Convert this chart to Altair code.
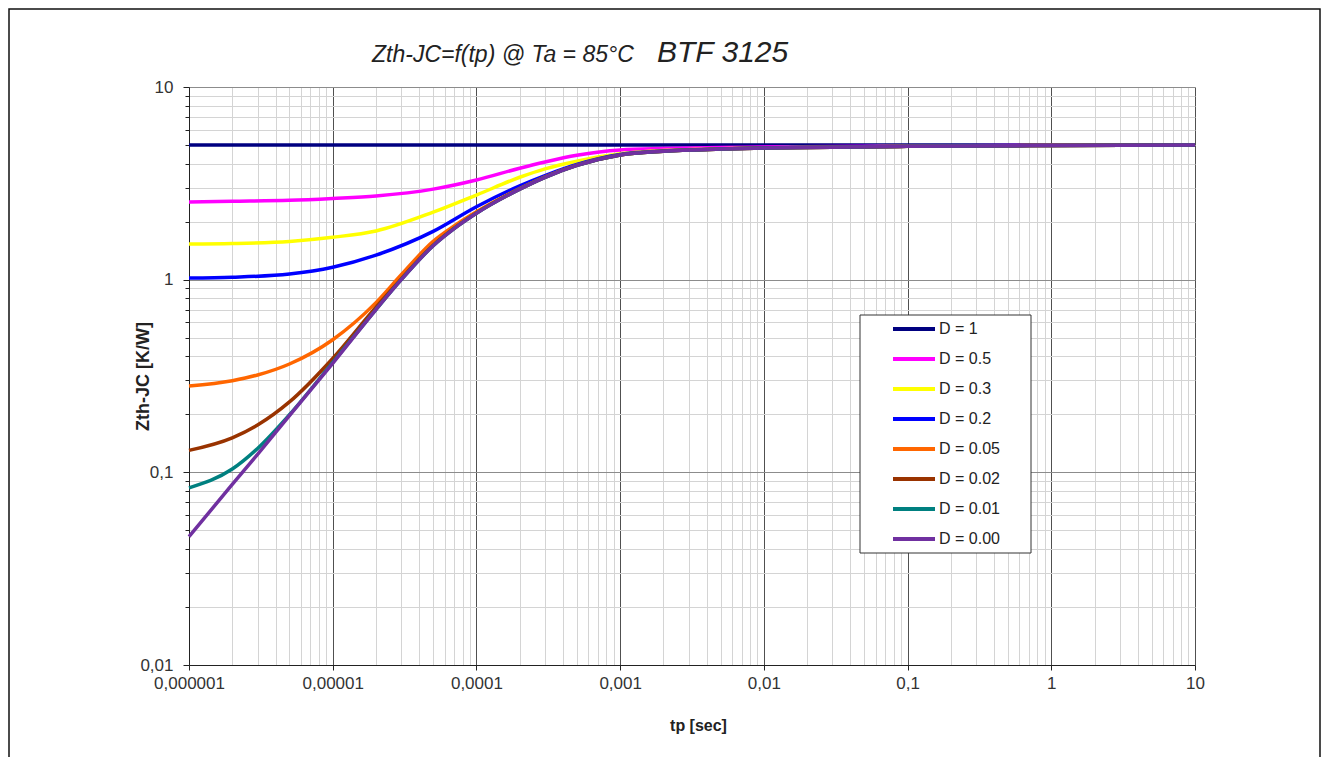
import altair as alt
import pandas as pd

# ---------------- data ----------------
series = ["D = 1", "D = 0.5", "D = 0.3", "D = 0.2", "D = 0.05", "D = 0.02", "D = 0.01", "D = 0.00"]
colors = ["#000080", "#FF00FF", "#FFFF00", "#0000FF", "#FF6600", "#993300", "#008080", "#7030A0"]

tp_d1 = [1e-6, 1e-3, 10]
z_d1 = [5.0, 5.0, 5.0]

tp_hi = [1e-6, 2e-6, 5e-6, 1e-5, 2e-5, 5e-5, 1e-4, 2e-4, 3e-4, 5e-4, 1e-3, 2e-3, 5e-3, 1e-2, 1e-1, 1, 10]
z_d05 = [2.53, 2.55, 2.58, 2.64, 2.72, 2.95, 3.29, 3.79, 4.08, 4.42, 4.71, 4.79, 4.85, 4.88, 4.94, 4.98, 5.0]
z_d03 = [1.53, 1.54, 1.58, 1.66, 1.79, 2.24, 2.75, 3.40, 3.76, 4.12, 4.50, 4.68, 4.78, 4.84, 4.93, 4.97, 5.0]
z_d02 = [1.02, 1.03, 1.07, 1.16, 1.34, 1.78, 2.39, 3.07, 3.47, 3.96, 4.46, 4.65, 4.77, 4.83, 4.92, 4.97, 5.0]

tp_lo = [1e-6, 2e-6, 3e-6, 5e-6, 1e-5, 2e-5, 3e-5, 5e-5, 7e-5, 1e-4, 2e-4, 3e-4, 5e-4,
         1e-3, 2e-3, 5e-3, 1e-2, 1e-1, 1, 10]
z_d005 = [0.281, 0.299, 0.320, 0.365, 0.488, 0.760, 1.06, 1.58, 1.90, 2.25, 2.97, 3.42, 3.93,
          4.44, 4.64, 4.76, 4.82, 4.92, 4.97, 5.0]
z_d002 = [0.130, 0.151, 0.176, 0.232, 0.390, 0.720, 1.01, 1.51, 1.85, 2.22, 2.95, 3.40, 3.92,
          4.44, 4.64, 4.76, 4.82, 4.92, 4.97, 5.0]
z_d001 = [0.083, 0.104, 0.133, 0.199, 0.372, 0.700, 1.00, 1.50, 1.84, 2.21, 2.95, 3.40, 3.92,
          4.44, 4.64, 4.76, 4.82, 4.92, 4.97, 5.0]
z_d000 = [0.0464, 0.0865, 0.124, 0.197, 0.368, 0.700, 1.00, 1.50, 1.84, 2.21, 2.95, 3.40, 3.92,
          4.44, 4.64, 4.76, 4.82, 4.92, 4.97, 5.0]

title_main = "Zth-JC=f(tp) @ Ta = 85°C"
title_part = "BTF 3125"
x_title = "tp [sec]"
y_title = "Zth-JC [K/W]"

# ---------------- table ----------------
curves = [
    (tp_d1, z_d1), (tp_hi, z_d05), (tp_hi, z_d03), (tp_hi, z_d02),
    (tp_lo, z_d005), (tp_lo, z_d002), (tp_lo, z_d001), (tp_lo, z_d000),
]
rows = []
for name, (xs, ys) in zip(series, curves):
    for xv, yv in zip(xs, ys):
        rows.append({"series": name, "tp": xv, "z": yv})
df = pd.DataFrame(rows)
legend_df = pd.DataFrame({"series": series})

x_ticks = [m * 10.0 ** e for e in range(-6, 1) for m in range(1, 10)] + [10.0]
y_ticks = [m * 10.0 ** e for e in range(-2, 1) for m in range(1, 10)] + [10.0]

major = "abs(log(datum.value)/LN10 - round(log(datum.value)/LN10)) < 0.001"
label_expr = f"({major}) ? replace(format(datum.value, '.6~f'), '.', ',') : ''"

FONT = "Liberation Sans"
TXT = "#222222"

x_axis = alt.Axis(
    values=x_ticks, grid=True,
    gridColor={"condition": {"test": major, "value": "#505050"}, "value": "#d4d4d4"},
    gridWidth=1,
    tickSize={"condition": {"test": major, "value": 5}, "value": 0},
    tickColor="#222222", domainColor="#222222",
    labelExpr=label_expr, labelOverlap=False, labelFlush=False,
    labelFont=FONT, labelFontSize=17, labelColor="#333333", labelPadding=5,
    title=x_title, titleFont=FONT, titleFontSize=16, titleFontWeight="bold",
    titleColor=TXT, titleX=509, titleY=52,
)
y_axis = alt.Axis(
    values=y_ticks, grid=True,
    gridColor={"condition": {"test": major, "value": "#8c8c8c"}, "value": "#d4d4d4"},
    gridWidth=1,
    tickSize={"condition": {"test": major, "value": 6}, "value": 4},
    tickColor="#222222", domainColor="#222222",
    labelExpr=label_expr, labelOverlap=False, labelFlush=False,
    labelFont=FONT, labelFontSize=17, labelColor="#333333", labelPadding=10,
    title=y_title, titleFont=FONT, titleFontSize=18, titleFontWeight="bold",
    titleColor=TXT, titleX=-37, titleY=289,
)

color_enc = alt.Color("series:N", sort=series,
                      scale=alt.Scale(domain=series, range=colors), legend=None)

lines = alt.Chart(df).mark_line(strokeWidth=3.5, interpolate="monotone").encode(
    x=alt.X("tp:Q", scale=alt.Scale(type="log", domain=[1e-6, 10], nice=False), axis=x_axis),
    y=alt.Y("z:Q", scale=alt.Scale(type="log", domain=[0.01, 10], nice=False), axis=y_axis),
    color=color_enc,
)

# ---------------- legend (drawn inside the plot) ----------------
leg_y = alt.Y("series:N", sort=series,
              scale=alt.Scale(type="point", domain=series, range=[242, 452], padding=0),
              axis=None)
one = pd.DataFrame({"k": [0]})
leg_box = alt.Chart(one).mark_rect(fill="white", stroke="#333333", strokeWidth=1).encode(
    x=alt.value(671), x2=alt.value(842), y=alt.value(228), y2=alt.value(466)
)
leg_rules = alt.Chart(legend_df).mark_rule(strokeWidth=4).encode(
    x=alt.value(704), x2=alt.value(746), y=leg_y, color=color_enc
)
leg_text = alt.Chart(legend_df).mark_text(
    font=FONT, fontSize=16, color=TXT, align="left", baseline="middle"
).encode(x=alt.value(750), y=leg_y, text="series:N")

# ---------------- title & frame ----------------
t1 = alt.Chart(one).mark_text(
    font=FONT, fontSize=23, fontStyle="italic", color=TXT, align="left", baseline="alphabetic"
).encode(x=alt.value(183), y=alt.value(-25), text=alt.value(title_main))
t2 = alt.Chart(one).mark_text(
    font=FONT, fontSize=30, fontStyle="italic", color=TXT, align="left", baseline="alphabetic"
).encode(x=alt.value(468), y=alt.value(-25), text=alt.value(title_part))
frame = alt.Chart(one).mark_rect(fillOpacity=0, stroke="#111111", strokeWidth=1.5).encode(
    x=alt.value(-180), x2=alt.value(1131), y=alt.value(-78), y2=alt.value(700)
)

chart = alt.layer(frame, lines, leg_box, leg_rules, leg_text, t1, t2).resolve_scale(
    y="independent"
).properties(
    width=1006, height=578,
    padding={"left": 181, "top": 79, "right": 126, "bottom": 92},
    autosize=alt.AutoSizeParams(type="none"),
    background="white",
).configure_view(strokeOpacity=0)

chart.save("out.html", embed_options={"renderer": "svg", "actions": False})
